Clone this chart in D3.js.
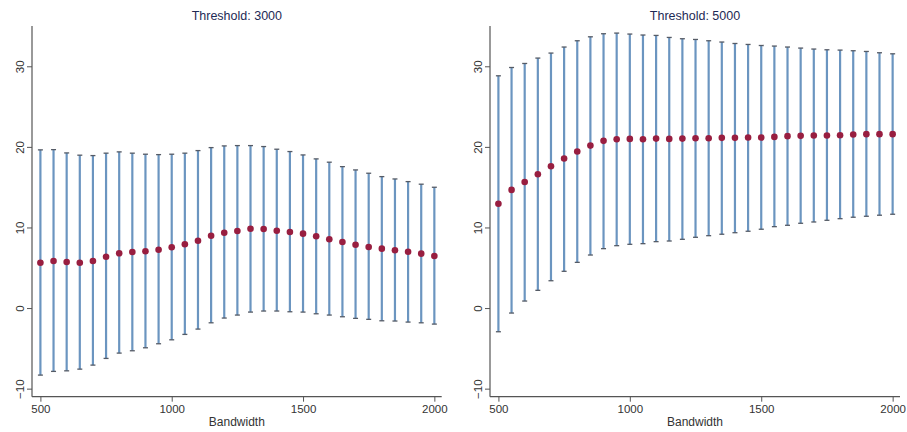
<!DOCTYPE html>
<html><head><meta charset="utf-8">
<script src="https://cdn.jsdelivr.net/npm/d3@7"></script>
<style>body{margin:0;background:#fff}svg{display:block}text{font-family:"Liberation Sans",Arial,sans-serif}</style>
</head><body><svg id="c" width="907" height="432"></svg>
<script>
const bandwidths = d3.range(500, 2001, 50);
const titles = ["Threshold: 3000", "Threshold: 5000"];
const xTicks = [500, 1000, 1500, 2000];
const yTicks = [-10, 0, 10, 20, 30];

const est3000 = [5.63,5.84,5.71,5.63,5.84,6.37,6.80,6.96,7.04,7.24,7.54,7.91,8.36,8.98,9.35,9.57,9.85,9.81,9.60,9.44,9.23,8.91,8.53,8.20,7.86,7.58,7.37,7.17,6.99,6.75,6.46];
const hi3000 = [19.63,19.66,19.25,18.97,18.92,19.22,19.38,19.22,19.09,19.04,19.09,19.22,19.54,19.91,20.12,20.16,20.16,20.04,19.71,19.42,19.00,18.51,18.10,17.55,17.14,16.73,16.31,16.02,15.69,15.37,14.99];
const lo3000 = [-8.32,-7.86,-7.79,-7.58,-7.08,-6.25,-5.59,-5.30,-4.93,-4.43,-3.94,-3.27,-2.61,-1.83,-1.24,-0.87,-0.50,-0.37,-0.37,-0.46,-0.50,-0.71,-0.87,-1.08,-1.28,-1.40,-1.58,-1.61,-1.74,-1.83,-1.99];

const est5000 = [12.95,14.66,15.65,16.60,17.60,18.55,19.42,20.16,20.75,20.95,20.99,20.95,21.03,20.99,21.03,21.08,21.08,21.12,21.12,21.16,21.16,21.24,21.33,21.37,21.41,21.41,21.45,21.53,21.58,21.58,21.58];
const hi5000 = [28.82,29.85,30.35,31.02,31.64,32.39,33.17,33.66,34.04,34.12,34.00,33.88,33.83,33.58,33.42,33.33,33.17,33.01,32.83,32.71,32.58,32.51,32.39,32.26,32.14,32.05,32.01,31.93,31.84,31.68,31.55];
const lo5000 = [-2.94,-0.62,0.87,2.20,3.39,4.56,5.67,6.58,7.37,7.74,7.91,7.99,8.24,8.32,8.53,8.78,8.98,9.16,9.35,9.53,9.78,10.10,10.27,10.52,10.68,10.89,11.09,11.27,11.39,11.52,11.64];

const panels = [
  {title: titles[0], est: est3000, hi: hi3000, lo: lo3000, x0: 32, x1: 441.7},
  {title: titles[1], est: est5000, hi: hi5000, lo: lo5000, x0: 490, x1: 900}
];

const svg = d3.select("#c");
const yTop = 26, yBot = 396.7;
const y = d3.scaleLinear().domain([-11, 35]).range([yBot, yTop]);

panels.forEach(p => {
  const x = d3.scaleLinear().domain([468, 2028]).range([p.x0, p.x1]);
  const g = svg.append("g");
  const data = bandwidths.map((b, i) => ({b, e: p.est[i], h: p.hi[i], l: p.lo[i]}));

  // error bars
  g.selectAll("line.bar").data(data).enter().append("line")
    .attr("x1", d => x(d.b)).attr("x2", d => x(d.b))
    .attr("y1", d => y(d.l)).attr("y2", d => y(d.h))
    .attr("stroke", "#6b95c0").attr("stroke-width", 2.2);
  ["h", "l"].forEach(k => {
    g.selectAll("line.cap" + k).data(data).enter().append("line")
      .attr("x1", d => x(d.b) - 2.5).attr("x2", d => x(d.b) + 2.5)
      .attr("y1", d => y(d[k])).attr("y2", d => y(d[k]))
      .attr("stroke", "#555b66").attr("stroke-width", 1.3);
  });
  g.selectAll("circle").data(data).enter().append("circle")
    .attr("cx", d => x(d.b)).attr("cy", d => y(d.e)).attr("r", 3.3)
    .attr("fill", "#981e40");

  // x axis
  const xa = g.append("g").attr("transform", `translate(0,${yBot})`)
    .call(d3.axisBottom(x).tickValues(xTicks).tickSize(5).tickPadding(3).tickFormat(d3.format("d")));
  xa.select(".domain").attr("stroke", "#555").attr("stroke-width", 1.2).attr("d", `M${p.x0},0H${p.x1}`);
  xa.selectAll(".tick line").attr("stroke", "#555");
  xa.selectAll(".tick text").attr("font-size", 11.5).attr("fill", "#333").attr("font-family", "Liberation Sans, Arial, sans-serif");

  // y axis
  const ya = g.append("g").attr("transform", `translate(${p.x0},0)`)
    .call(d3.axisLeft(y).tickValues(yTicks).tickSize(5).tickFormat(d3.format("d")));
  ya.select(".domain").attr("stroke", "#555").attr("stroke-width", 1.2).attr("d", `M0,${yTop}V${yBot}`);
  ya.selectAll(".tick line").attr("stroke", "#555");
  ya.selectAll(".tick text")
    .attr("font-size", 11.5).attr("fill", "#333").attr("font-family", "Liberation Sans, Arial, sans-serif")
    .attr("x", null).attr("dy", null).attr("text-anchor", "middle")
    .attr("transform", "translate(-12,0) rotate(-90)").attr("dy", "0.35em");

  g.append("text").attr("x", (p.x0 + p.x1) / 2).attr("y", 20)
    .attr("text-anchor", "middle").attr("font-size", 12.5).attr("fill", "#1e2a55").text(p.title);
  g.append("text").attr("x", (p.x0 + p.x1) / 2).attr("y", 426)
    .attr("text-anchor", "middle").attr("font-size", 12).attr("fill", "#333").text("Bandwidth");
});
</script></body></html>
